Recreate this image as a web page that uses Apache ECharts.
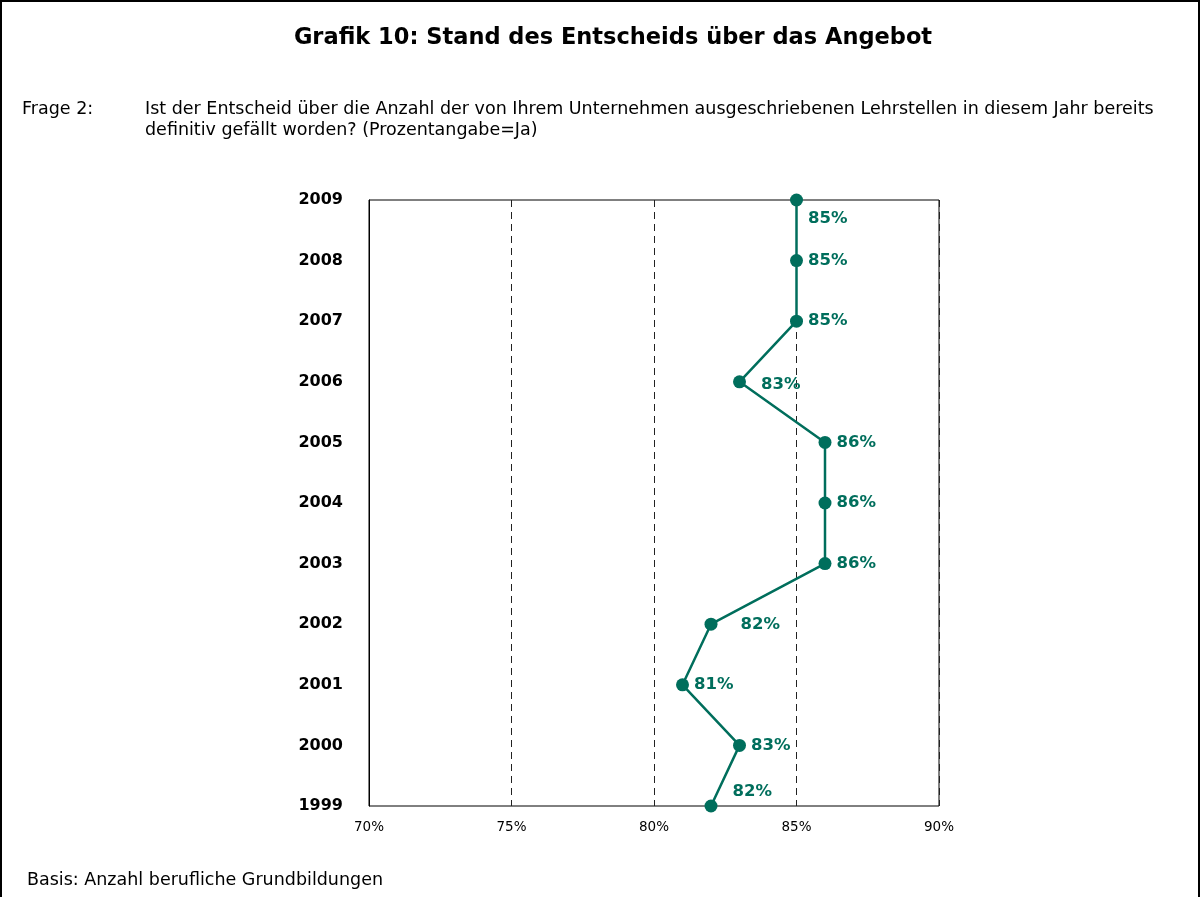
<!DOCTYPE html>
<html>
<head>
<meta charset="utf-8">
<script src="https://cdn.jsdelivr.net/npm/echarts@6/dist/echarts.min.js"></script>
<style>
  html, body { margin: 0; padding: 0; background: #fff; }
  #chart { width: 1202px; height: 897px; }
</style>
</head>
<body>
<div id="chart"></div>
<script>
// Survey years, bottom to top
const years = ['1999', '2000', '2001', '2002', '2003', '2004', '2005', '2006', '2007', '2008', '2009'];
// Share answering "Ja" (percent)
const shareYes = [82, 83, 81, 82, 86, 86, 86, 83, 85, 85, 85];
// Value axis ticks
const xTicks = [70, 75, 80, 85, 90];

// Per-point label nudges so labels stay clear of the line
const labelOffsets = {
  '1999': [10, -14],
  '2002': [18, 1],
  '2006': [10, 3],
  '2009': [0, 19]
};

const teal = '#006E5C';
const FONT = '"DejaVu Sans", "Liberation Sans", Arial, sans-serif';
const chart = echarts.init(document.getElementById('chart'));

chart.setOption({
  animation: false,
  backgroundColor: '#fff',
  textStyle: { fontFamily: FONT },
  graphic: [
    { type: 'rect', shape: { x: 1, y: 1, width: 1198, height: 910 },
      style: { fill: 'none', stroke: '#000', lineWidth: 2 } },
    { type: 'text', x: 613, y: 38,
      style: { text: 'Grafik 10: Stand des Entscheids über das Angebot',
               font: 'bold 22.5px ' + FONT, fill: '#000', align: 'center', verticalAlign: 'middle' } },
    { type: 'text', x: 22, y: 109,
      style: { text: 'Frage 2:', font: '17.5px ' + FONT, fill: '#000', verticalAlign: 'middle' } },
    { type: 'text', x: 145, y: 99,
      style: { text: 'Ist der Entscheid über die Anzahl der von Ihrem Unternehmen ausgeschriebenen Lehrstellen in diesem Jahr bereits\ndefinitiv gefällt worden? (Prozentangabe=Ja)',
               font: '17.5px ' + FONT, lineHeight: 21, fill: '#000' } },
    { type: 'text', x: 27, y: 880,
      style: { text: 'Basis: Anzahl berufliche Grundbildungen',
               font: '17.5px ' + FONT, fill: '#000', verticalAlign: 'middle' } }
  ],
  grid: {
    left: 369, right: 263, top: 200, bottom: 91,
    show: true, borderColor: '#000', borderWidth: 1, backgroundColor: 'transparent'
  },
  xAxis: {
    type: 'value',
    min: xTicks[0], max: xTicks[xTicks.length - 1], interval: 5,
    axisLine: { show: false },
    axisTick: { show: false },
    axisLabel: { formatter: '{value}%', color: '#000', fontSize: 13.5, margin: 14 },
    splitLine: { show: true, lineStyle: { color: '#222', type: [7, 5], width: 1 } }
  },
  yAxis: {
    type: 'category',
    data: years,
    boundaryGap: false,
    axisLine: { show: true, lineStyle: { color: '#000' } },
    axisTick: { show: false },
    axisLabel: { color: '#000', fontSize: 16, fontWeight: 'bold', margin: 26 },
    splitLine: { show: false }
  },
  series: [{
    type: 'line',
    data: shareYes.map((v, i) => {
      const off = labelOffsets[years[i]];
      return off ? { value: v, label: { offset: off } } : v;
    }),
    symbol: 'circle',
    symbolSize: 13,
    lineStyle: { color: teal, width: 2.5 },
    itemStyle: { color: teal },
    label: {
      show: true, position: 'right', distance: 5,
      formatter: p => p.value + '%',
      color: teal, fontSize: 16.5, fontWeight: 'bold'
    },
    z: 5
  }]
});
</script>
</body>
</html>
